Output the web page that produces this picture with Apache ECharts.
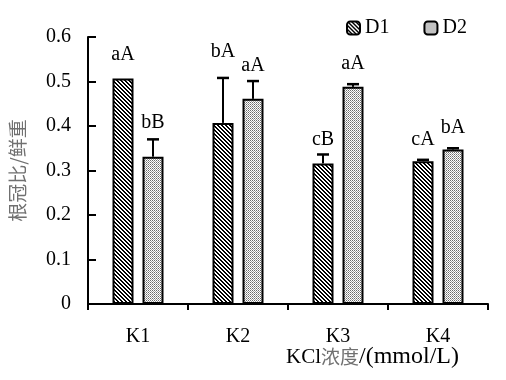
<!DOCTYPE html>
<html>
<head>
<meta charset="utf-8">
<script src="https://cdn.jsdelivr.net/npm/echarts@6/dist/echarts.min.js"></script>
<style>html,body{margin:0;padding:0;background:#fff}#c{width:506px;height:380px}</style>
</head>
<body>
<div id="c"></div>
<script>
var categories = ['K1', 'K2', 'K3', 'K4'];
var d1Values = [0.507, 0.407, 0.316, 0.321];
var d2Values = [0.331, 0.461, 0.488, 0.347];
var d1Errors = [0, 0.101, 0.020, 0.003];
var d2Errors = [0.039, 0.040, 0.006, 0.003];
var d1Letters = ['aA', 'bA', 'cB', 'cA'];
var d2Letters = ['bB', 'aA', 'aA', 'bA'];
var d1LetterY = [0.560, 0.566, 0.369, 0.370];
var d2LetterY = [0.407, 0.536, 0.541, 0.396];

var SERIF = '"Liberation Serif", "Times New Roman", serif';
var CJK = '"Noto Sans CJK SC", sans-serif';
var BAR_W = 21, GAP_PX = 9;

function makeTile(fn, w, h) {
  var cv = document.createElement('canvas');
  cv.width = w; cv.height = h;
  var ctx = cv.getContext('2d');
  ctx.fillStyle = '#fff'; ctx.fillRect(0, 0, w, h);
  for (var y = 0; y < h; y++) for (var x = 0; x < w; x++) {
    var c = fn(x, y);
    if (c) { ctx.fillStyle = c; ctx.fillRect(x, y, 1, 1); }
  }
  return cv;
}
var hatch = makeTile(function (x, y) { var m = ((x - y) % 4 + 4) % 4; return (m === 0 || m === 1) ? '#000' : null; }, 4, 4);
var dots = makeTile(function (x, y) {
  if (x % 2 === 0 && y % 2 === 0) return '#6a6a6a';
  if (x % 2 === 1 && y % 2 === 1) return '#a0a0a0';
  return null;
}, 2, 2);

function errSeries(name, values, errors, letters, letterY, sign) {
  var data = values.map(function (v, i) { return [i, v, errors[i], letterY[i]]; });
  return {
    type: 'custom', name: name, z: 10, clip: false,
    encode: { x: 0, y: 1 },
    data: data,
    renderItem: function (params, api) {
      var i = api.value(0), v = api.value(1), e = api.value(2), ly = api.value(3);
      var off = sign * (BAR_W + GAP_PX) / 2;
      var base = api.coord([i, v]);
      var top = api.coord([i, v + e]);
      var lab = api.coord([i, ly]);
      var x = base[0] + off;
      var children = [];
      if (e > 0) {
        children.push({ type: 'line', shape: { x1: x, y1: base[1], x2: x, y2: top[1] }, style: { stroke: '#000', lineWidth: 2 } });
        children.push({ type: 'line', shape: { x1: x - 6, y1: top[1], x2: x + 6, y2: top[1] }, style: { stroke: '#000', lineWidth: 2.5 } });
      }
      children.push({ type: 'text', x: x, y: lab[1], style: { text: letters[params.dataIndex], font: '20px ' + SERIF, fill: '#000', align: 'center', verticalAlign: 'middle' } });
      return { type: 'group', children: children };
    }
  };
}

var chart = echarts.init(document.getElementById('c'), null, { renderer: 'canvas' });
chart.setOption({
  animation: false,
  backgroundColor: '#fff',
  grid: { left: 82, right: 18, top: 37, bottom: 76, containLabel: false },
  legend: {
    data: ['D1', 'D2'], left: 346, top: 18, padding: 0, itemWidth: 13, itemHeight: 13, itemGap: 34,
    textStyle: { fontFamily: SERIF, fontSize: 20, color: '#000' },
    itemStyle: { borderColor: '#000', borderWidth: 2 }
  },
  xAxis: {
    type: 'category', data: categories,
    axisLine: { lineStyle: { color: '#000', width: 2 } },
    axisTick: { show: true, inside: false, length: 6, lineStyle: { color: '#000', width: 2 } },
    axisLabel: { margin: 23, fontFamily: SERIF, fontSize: 20, color: '#000' },
    splitLine: { show: false }
  },
  yAxis: {
    type: 'value', min: 0, max: 0.6, interval: 0.1,
    name: '根冠比/鲜重', nameLocation: 'middle', nameGap: 61,
    nameTextStyle: { fontFamily: CJK, fontSize: 19, color: '#707070' },
    axisLine: { show: true, lineStyle: { color: '#000', width: 2 } },
    axisTick: { show: true, inside: true, length: 8, lineStyle: { color: '#000', width: 2 } },
    axisLabel: { margin: 17, fontFamily: SERIF, fontSize: 20, color: '#000',
      formatter: function (v) { return v === 0 ? '0' : v.toFixed(1); } },
    splitLine: { show: false }
  },
  graphic: [{
    type: 'text', left: 286, top: 345,
    style: {
      text: '{a|KCl}{b|浓度}{c|/(mmol/L)}',
      rich: {
        a: { fontFamily: SERIF, fontSize: 21, fill: '#000', color: '#000' },
        b: { fontFamily: CJK, fontSize: 19, fill: '#707070', color: '#707070' },
        c: { fontFamily: SERIF, fontSize: 24, fill: '#000', color: '#000' }
      }
    }
  }],
  series: [
    { type: 'bar', name: 'D1', data: d1Values, barWidth: BAR_W, barGap: (GAP_PX / BAR_W * 100) + '%',
      itemStyle: { color: { image: hatch, repeat: 'repeat' }, borderColor: '#000', borderWidth: 2 } },
    { type: 'bar', name: 'D2', data: d2Values, barWidth: BAR_W,
      itemStyle: { color: { image: dots, repeat: 'repeat' }, borderColor: '#000', borderWidth: 2 } },
    errSeries('errD1', d1Values, d1Errors, d1Letters, d1LetterY, -1),
    errSeries('errD2', d2Values, d2Errors, d2Letters, d2LetterY, 1)
  ]
});
</script>
</body>
</html>
